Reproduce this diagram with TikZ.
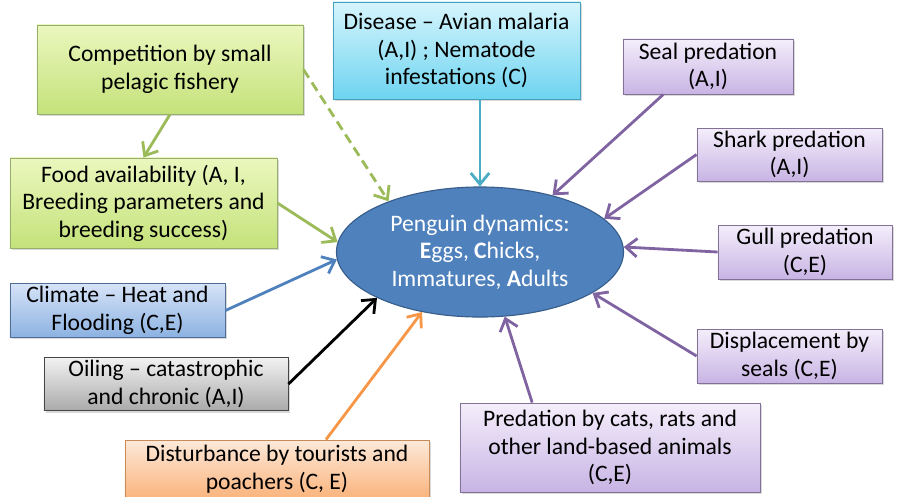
\documentclass[tikz,border=0pt]{standalone}
\usepackage{fontspec}
\setmainfont{Carlito}
\usetikzlibrary{arrows.meta,shadows,shapes.geometric}

\definecolor{grnline}{HTML}{9BBB59}
\definecolor{cyanline}{HTML}{4BACC6}
\definecolor{purpline}{HTML}{8064A2}
\definecolor{blueline}{HTML}{4F81BD}
\definecolor{orgline}{HTML}{F79646}
\definecolor{ellfill}{HTML}{4F81BD}
\definecolor{elldraw}{HTML}{385D8A}

\begin{document}
\begin{tikzpicture}[x=0.025cm,y=-0.025cm,
    factor/.style={rectangle, draw=gray!70!black, line width=0.6pt, align=center,
        inner sep=2pt, font=\fontsize{16.8}{19.6}\selectfont,
        drop shadow={opacity=0.3, shadow xshift=1.5pt, shadow yshift=-1.5pt}},
    greenbox/.style={factor, top color={rgb,255:red,235;green,247;blue,190}, bottom color={rgb,255:red,196;green,226;blue,122}, draw={rgb,255:red,150;green,175;blue,110}},
    cyanbox/.style={factor, top color={rgb,255:red,214;green,245;blue,253}, bottom color={rgb,255:red,110;green,212;blue,240}, draw={rgb,255:red,70;green,160;blue,190}},
    purpbox/.style={factor, top color={rgb,255:red,244;green,238;blue,251}, bottom color={rgb,255:red,200;green,180;blue,228}, draw={rgb,255:red,130;green,115;blue,150}},
    bluebox/.style={factor, top color={rgb,255:red,214;green,227;blue,247}, bottom color={rgb,255:red,140;green,178;blue,226}, draw={rgb,255:red,80;green,110;blue,150}},
    greybox/.style={factor, top color={rgb,255:red,242;green,242;blue,242}, bottom color={rgb,255:red,170;green,170;blue,170}, draw={rgb,255:red,70;green,70;blue,70}},
    orgbox/.style={factor, top color={rgb,255:red,253;green,233;blue,217}, bottom color={rgb,255:red,250;green,180;blue,125}, draw={rgb,255:red,200;green,140;blue,90}},
    link/.style={line width=2pt, -{Straight Barb[length=2.8mm,width=4.6mm]}}]

\useasboundingbox (0,0) rectangle (899,496);

\node[ellipse, fill=ellfill, draw=elldraw, line width=0.8pt, minimum width=7.175cm, minimum height=3.25cm,
      text=white, align=center, font=\fontsize{16.8}{19.6}\selectfont] (ell) at (480,252)
    {Penguin dynamics:\\ \textbf{E}ggs, \textbf{C}hicks,\\ Immatures, \textbf{A}dults};

\node[greenbox, minimum width=6.65cm, minimum height=2.225cm] (comp) at (170,69.5)
    {Competition by small\\ pelagic fishery};
\node[greenbox, minimum width=6.675cm, minimum height=2.25cm] (food) at (143.5,203)
    {Food availability (A, I,\\ Breeding parameters and\\ breeding success)};
\node[cyanbox, minimum width=6.175cm, minimum height=2.425cm] (dis) at (456.5,50.5)
    {Disease -- Avian malaria\\ (A,I) ; Nematode\\ infestations (C)};
\node[purpbox, minimum width=4.25cm, minimum height=1.375cm] (seal) at (708,66.5)
    {Seal predation\\ (A,I)};
\node[purpbox, minimum width=4.625cm, minimum height=1.325cm] (shark) at (789.5,154.5)
    {Shark predation\\ (A,I)};
\node[purpbox, minimum width=4.35cm, minimum height=1.35cm] (gull) at (805,252)
    {Gull predation\\ (C,E)};
\node[purpbox, minimum width=4.625cm, minimum height=1.35cm] (disp) at (789.5,356)
    {Displacement by\\ seals (C,E)};
\node[purpbox, minimum width=7.5cm, minimum height=2.225cm] (cats) at (610,447.5)
    {Predation by cats, rats and\\ other land-based animals\\ (C,E)};
\node[orgbox, minimum width=7.6cm, minimum height=1.45cm] (dist) at (277,469)
    {Disturbance by tourists and\\ poachers (C, E)};
\node[greybox, minimum width=6.1cm, minimum height=1.3cm] (oil) at (166,384)
    {Oiling -- catastrophic\\ and chronic (A,I)};
\node[bluebox, minimum width=5.375cm, minimum height=1.275cm] (clim) at (117.5,310.5)
    {Climate -- Heat and\\ Flooding (C,E)};

\draw[link, grnline] (comp.south) -- (food.north);
\draw[link, grnline, dash pattern=on 7pt off 4pt] (comp.east) -- (ell.151);
\draw[link, grnline] (food.east) -- (ell.176);
\draw[link, cyanline] (ell.north |- dis.south) -- (ell.north);
\draw[link, purpline] (seal.-148) -- (ell.38);
\draw[link, purpline] (shark.west) -- (ell.15);
\draw[link, purpline] (gull.west) -- (ell.2);
\draw[link, purpline] (disp.west) -- (ell.-20);
\draw[link, purpline] (cats.150) -- (ell.-69);
\draw[link, orgline] (dist.31) -- (ell.-134);
\draw[link, black] (oil.east) -- (ell.-156);
\draw[link, blueline] (clim.east) -- (ell.183);
\end{tikzpicture}
\end{document}
